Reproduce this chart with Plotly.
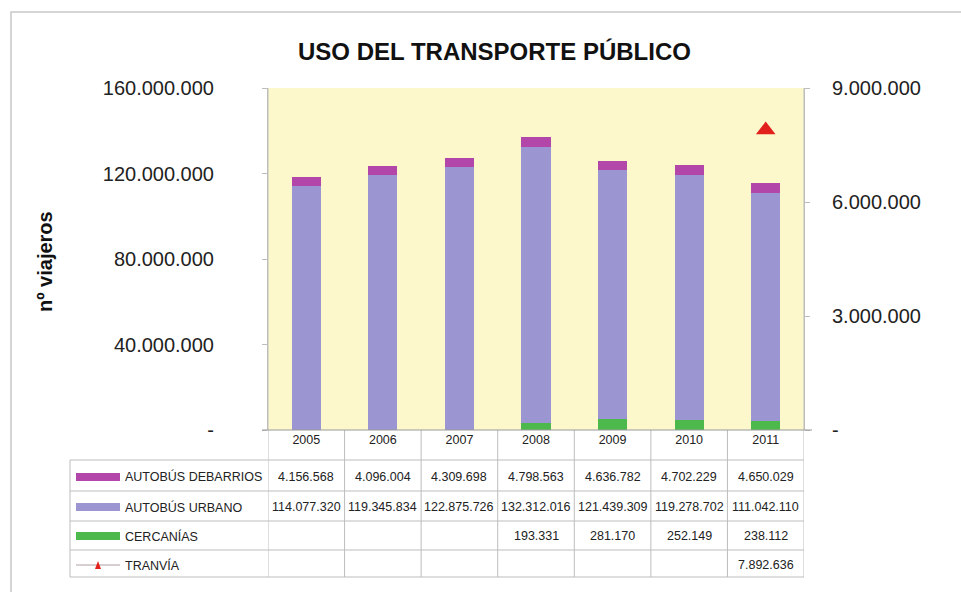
import plotly.graph_objects as go

# ---- data -------------------------------------------------------------
years = ["2005", "2006", "2007", "2008", "2009", "2010", "2011"]
autobus_barrios = [4156568, 4096004, 4309698, 4798563, 4636782, 4702229, 4650029]
autobus_urbano = [114077320, 119345834, 122875726, 132312016, 121439309, 119278702, 111042110]
cercanias = [None, None, None, 193331, 281170, 252149, 238112]
tranvia = [None, None, None, None, None, None, 7892636]

series_names = ["AUTOBÚS DEBARRIOS", "AUTOBÚS URBANO", "CERCANÍAS", "TRANVÍA"]

left_ticks = [0, 40000000, 80000000, 120000000, 160000000]
right_ticks = [0, 3000000, 6000000, 9000000]

# ---- style ------------------------------------------------------------
FONT = "Liberation Sans Narrow, Arial Narrow, Liberation Sans, Arial, sans-serif"
C_BARRIOS = "#B347A9"
C_URBANO = "#9B96D2"
C_CERC = "#4DB84B"
C_TRAN = "#E3211C"
GRID = "#BDBDBD"
BG = "#FCF8CC"
TXT = "#222222"

W, H = 961, 592
L, R, T, B = 268, 157, 88, 162
PH = H - T - B  # plot height in px
PW = W - L - R


def py(px_y):
    """Pixel row -> paper y."""
    return (H - B - px_y) / PH


def px(px_x):
    """Pixel column -> paper x."""
    return (px_x - L) / PW


def fmt(v):
    return "" if v is None else f"{v:,}".replace(",", ".")


fig = go.Figure()

fig.add_trace(go.Bar(x=years, y=autobus_urbano, name=series_names[1],
                     marker=dict(color=C_URBANO, line=dict(width=0)), yaxis="y"))
fig.add_trace(go.Bar(x=years, y=autobus_barrios, name=series_names[0],
                     marker=dict(color=C_BARRIOS, line=dict(width=0)), yaxis="y"))
fig.add_trace(go.Bar(x=years, y=cercanias, name=series_names[2],
                     marker=dict(color=C_CERC, line=dict(width=0)), yaxis="y2"))
fig.add_trace(go.Scatter(x=years, y=tranvia, name=series_names[3], mode="markers",
                         marker=dict(symbol="triangle-up", size=17, color=C_TRAN),
                         yaxis="y2"))

shapes = []
annotations = []

# outer chart frame
shapes.append(dict(type="rect", xref="paper", yref="paper",
                   x0=px(11), x1=px(990), y0=py(620), y1=py(12),
                   line=dict(color="#C8C8C8", width=1.5), layer="below"))

# data table grid: horizontal rules
row_lines = [460, 491, 521, 550, 577]
for yl in row_lines:
    shapes.append(dict(type="line", xref="paper", yref="paper",
                       x0=px(70), x1=1, y0=py(yl), y1=py(yl),
                       line=dict(color=GRID, width=1)))
# vertical rules between categories (category index scale)
n = len(years)
for k in range(n + 1):
    shapes.append(dict(type="line", xref="x", yref="paper",
                       x0=k - 0.5, x1=k - 0.5, y0=py(577), y1=1 if k in (0, n) else 0,
                       line=dict(color=GRID, width=1)))
shapes.append(dict(type="line", xref="paper", yref="paper",
                   x0=px(70), x1=px(70), y0=py(460), y1=py(577),
                   line=dict(color=GRID, width=1)))
# bottom axis line of the plot
shapes.append(dict(type="line", xref="paper", yref="paper",
                   x0=px(262), x1=px(812), y0=0, y1=0,
                   line=dict(color="#9A9A9A", width=1)))

# table rows: legend key + values
row_centers = [477, 507, 536, 565]
row_values = [autobus_barrios, autobus_urbano, cercanias, tranvia]
row_colors = [C_BARRIOS, C_URBANO, C_CERC, None]
for name, yc, vals, col in zip(series_names, row_centers, row_values, row_colors):
    if col is not None:
        shapes.append(dict(type="rect", xref="paper", yref="paper",
                           x0=px(76), x1=px(120), y0=py(yc + 4), y1=py(yc - 4),
                           fillcolor=col, line=dict(width=0)))
    else:
        shapes.append(dict(type="line", xref="paper", yref="paper",
                           x0=px(76), x1=px(120), y0=py(yc), y1=py(yc),
                           line=dict(color="#B0A0A0", width=1)))
        shapes.append(dict(type="path", xref="paper", yref="paper",
                           path=f"M {px(95)},{py(yc + 4)} L {px(101)},{py(yc + 4)} L {px(98)},{py(yc - 4)} Z",
                           fillcolor=C_TRAN, line=dict(width=0)))
    annotations.append(dict(xref="paper", yref="paper", x=px(123), y=py(yc),
                            text=name, showarrow=False, xanchor="left", yanchor="middle",
                            font=dict(family=FONT, size=12.5, color=TXT)))
    for i, v in enumerate(vals):
        if v is None:
            continue
        annotations.append(dict(xref="x", yref="paper", x=i, y=py(yc),
                                text=fmt(v), showarrow=False,
                                xanchor="center", yanchor="middle",
                                font=dict(family=FONT, size=12.5, color=TXT)))

# title and axis title
annotations.append(dict(xref="paper", yref="paper", x=px(494), y=py(51),
                        text="<b>USO DEL TRANSPORTE PÚBLICO</b>", showarrow=False,
                        xanchor="center", yanchor="middle",
                        font=dict(family=FONT, size=24, color="#111111")))
annotations.append(dict(xref="paper", yref="paper", x=px(45), y=py(262),
                        text="<b>nº viajeros</b>", showarrow=False, textangle=-90,
                        xanchor="center", yanchor="middle",
                        font=dict(family=FONT, size=20, color="#111111")))

fig.update_layout(
    width=W, height=H,
    margin=dict(l=L, r=R, t=T, b=B),
    paper_bgcolor="white",
    plot_bgcolor=BG,
    barmode="stack",
    bargap=0.62,
    showlegend=False,
    shapes=shapes,
    annotations=annotations,
    xaxis=dict(type="category", categoryorder="array", categoryarray=years,
               range=[-0.5, n - 0.5], showgrid=False, zeroline=False, showline=False,
               ticks="", tickfont=dict(family=FONT, size=12.5, color=TXT)),
    yaxis=dict(range=[0, 160000000], tickvals=left_ticks,
               ticktext=["-" if v == 0 else fmt(v) for v in left_ticks],
               showgrid=False, zeroline=False, showline=True, linecolor=GRID,
               ticks="outside", ticklen=5, tickcolor=GRID, ticklabelstandoff=44,
               tickfont=dict(family=FONT, size=20, color=TXT)),
    yaxis2=dict(range=[0, 9000000], overlaying="y", side="right",
                tickvals=right_ticks,
                ticktext=["-" if v == 0 else fmt(v) for v in right_ticks],
                showgrid=False, zeroline=False, showline=True, linecolor=GRID,
                ticks="outside", ticklen=5, tickcolor=GRID, ticklabelstandoff=18,
                tickfont=dict(family=FONT, size=20, color=TXT)),
)

fig.write_html("out.html")
